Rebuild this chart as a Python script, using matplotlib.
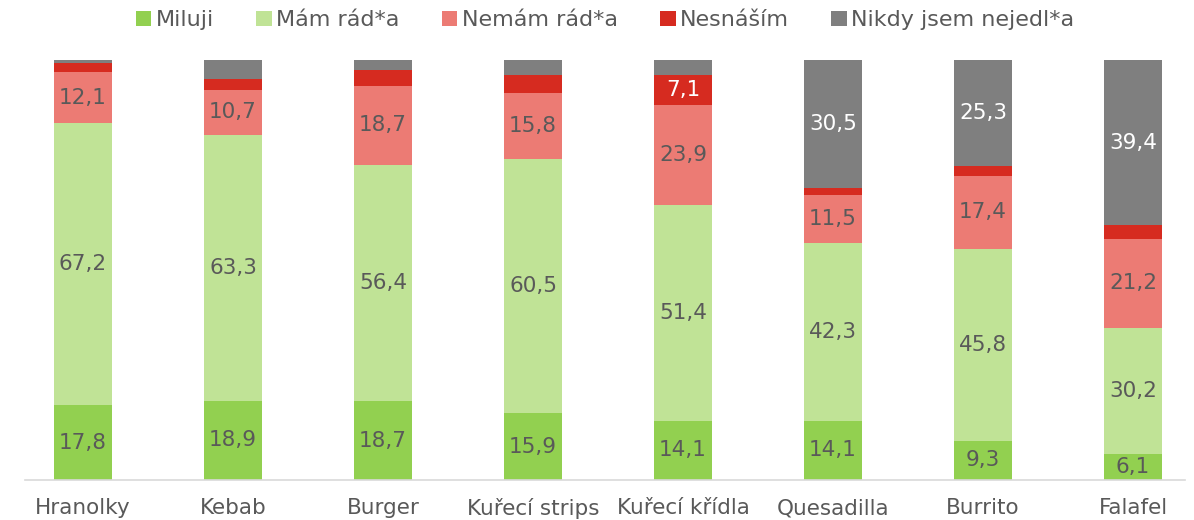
import numpy as np
import matplotlib.pyplot as plt

plt.rcParams['font.family'] = ['DejaVu Sans']

# data
foods = ["Hranolky", "Kebab", "Burger", "Kuřecí strips", "Kuřecí křídla",
         "Quesadilla", "Burrito", "Falafel"]
series = ["Miluji", "Mám rád*a", "Nemám rád*a", "Nesnáším", "Nikdy jsem nejedl*a"]
miluji = [17.8, 18.9, 18.7, 15.9, 14.1, 14.1, 9.3, 6.1]
mam_rad = [67.2, 63.3, 56.4, 60.5, 51.4, 42.3, 45.8, 30.2]
nemam_rad = [12.1, 10.7, 18.7, 15.8, 23.9, 11.5, 17.4, 21.2]
nesnasim = [2.1, 2.5, 3.8, 4.3, 7.1, 1.6, 2.2, 3.1]
nikdy = [0.8, 4.6, 2.4, 3.5, 3.5, 30.5, 25.3, 39.4]

colors = ["#92D050", "#C0E396", "#EC7B74", "#D62B20", "#7F7F7F"]
label_colors = ["#595959", "#595959", "#595959", "white", "white"]
text_gray = "#595959"

fig = plt.figure(figsize=(11.94, 5.2), dpi=100)
ax = fig.add_axes([25 / 1194, 40 / 520, 1160 / 1194, 420 / 520])

x = np.arange(len(foods))
bottom = np.zeros(len(foods))
for name, vals, col, lcol in zip(series, [miluji, mam_rad, nemam_rad, nesnasim, nikdy],
                                 colors, label_colors):
    vals = np.array(vals)
    ax.bar(x, vals, width=0.39, bottom=bottom, color=col, label=name)
    for xi, b, v in zip(x, bottom, vals):
        if v >= 5:
            ax.text(xi, b + v / 2, f"{v:.1f}".replace(".", ","), ha="center",
                    va="center", fontsize=15.5, color=lcol)
    bottom += vals

total = bottom.max()
ax.set_ylim(0, total)
ax.set_xlim(-0.387, 7.347)
ax.set_yticks([])
ax.set_xticks(x)
ax.set_xticklabels(foods, fontsize=15.5, color=text_gray)
ax.tick_params(axis="x", length=0, pad=13)
for s in ["top", "right", "left"]:
    ax.spines[s].set_visible(False)
ax.spines["bottom"].set_color("#D9D9D9")
ax.spines["bottom"].set_linewidth(1.2)

leg = ax.legend(loc="lower center", bbox_to_anchor=(0.5, 1.05), ncol=5, frameon=False,
                fontsize=16, handlelength=0.7, handleheight=0.7, handletextpad=0.2,
                columnspacing=1.9, borderaxespad=0)
for t in leg.get_texts():
    t.set_color(text_gray)

fig.savefig("out.png", dpi=100)
